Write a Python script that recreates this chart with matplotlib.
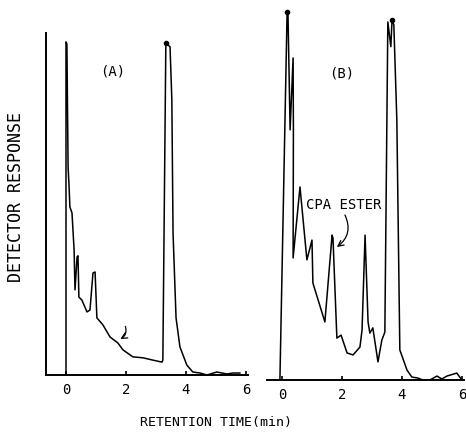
import numpy as np
import matplotlib
matplotlib.use("Agg")
import matplotlib.pyplot as plt

plt.rcParams['font.family'] = ['DejaVu Sans Mono', 'DejaVu Sans']

# chromatogram A (retention time in min, detector response in arbitrary units)
time_a = [0.0, 0.0, 0.03, 0.07, 0.10, 0.13, 0.20, 0.27, 0.30, 0.37, 0.40, 0.43, 0.53,
          0.70, 0.80, 0.90, 0.97, 1.03, 1.23, 1.47, 1.73, 1.90, 2.23, 2.57, 2.90, 3.20,
          3.23, 3.33, 3.40, 3.47, 3.53, 3.57, 3.67, 3.80, 4.03, 4.23, 4.47, 4.70, 5.03,
          5.37, 5.57, 5.80]
resp_a = [0.0, 100.9, 100.3, 63.0, 57.6, 50.9, 49.1, 37.9, 25.8, 35.8, 36.1, 23.6, 22.7,
          19.1, 19.7, 30.9, 31.2, 17.3, 15.2, 11.5, 9.7, 7.6, 5.5, 5.2, 4.5, 3.9,
          4.5, 100.6, 100.0, 99.4, 83.3, 43.0, 17.3, 8.5, 3.0, 0.9, 0.6, 0.0, 0.9,
          0.3, 0.6, 0.6]

# chromatogram B
time_b = [-0.07, 0.17, 0.20, 0.27, 0.37, 0.38, 0.37, 0.60, 0.83, 1.00, 1.03, 1.43, 1.67,
          1.70, 1.83, 1.97, 2.17, 2.37, 2.60, 2.67, 2.77, 2.87, 2.93, 3.03, 3.20, 3.33,
          3.43, 3.53, 3.63, 3.67, 3.73, 3.83, 3.93, 4.17, 4.33, 4.53, 4.70, 4.93, 5.17,
          5.33, 5.50, 5.83, 6.00]
resp_b = [0.0, 111.5, 110.6, 75.8, 97.6, 75.8, 37.0, 58.5, 36.4, 42.4, 29.4, 17.6, 43.9,
          43.0, 12.7, 13.6, 8.2, 7.6, 10.0, 15.2, 43.9, 17.6, 14.2, 15.8, 5.5, 12.1,
          14.5, 108.5, 101.0, 109.1, 107.6, 78.8, 9.1, 3.0, 0.9, 0.6, 0.0, 0.0, 1.2,
          0.3, 1.2, 2.1, 0.0]

ticks = [0, 2, 4, 6]

fig = plt.figure(figsize=(4.66, 4.37), dpi=100)
ax_a = fig.add_axes([0.0987, 0.1419, 0.4335, 0.7826])
ax_b = fig.add_axes([0.573, 0.1304, 0.4227, 0.858])

ax_a.plot(time_a, resp_a, color='black', lw=1.1)
ax_b.plot(time_b, resp_b, color='black', lw=1.1)

# dots on top of the big peaks
ia = int(np.argmax(resp_a[20:])) + 20
ax_a.plot(time_a[ia], resp_a[ia], 'o', color='black', ms=3)
ax_b.plot(time_b[1], resp_b[1], 'o', color='black', ms=3)
ib = int(np.argmax(resp_b[20:])) + 20
ax_b.plot(time_b[ib], resp_b[ib], 'o', color='black', ms=3)

ax_a.set_xlim(-0.667, 6.07)
ax_a.set_ylim(0, 103.6)
ax_b.set_xlim(-0.5, 6.07)
ax_b.set_ylim(0, 113.6)

for ax in (ax_a, ax_b):
    ax.set_facecolor('none')
    ax.spines['top'].set_visible(False)
    ax.spines['right'].set_visible(False)
    ax.spines['bottom'].set_linewidth(1.4)
    ax.set_xticks(ticks)
    ax.set_xticklabels([str(t) for t in ticks], fontsize=10)
    ax.tick_params(axis='x', direction='in', length=3, width=1.2, pad=6)
    ax.set_yticks([])
ax_a.spines['left'].set_linewidth(1.4)
ax_b.spines['left'].set_visible(False)

ax_a.text(1.55, 92, '(A)', fontsize=10, ha='center', va='center')
ax_b.text(2.0, 93, '(B)', fontsize=10, ha='center', va='center')

ax_b.text(2.07, 53, 'CPA ESTER', fontsize=10, ha='center', va='center')
ax_b.annotate('', xy=(1.83, 40.3), xytext=(2.1, 50),
              arrowprops=dict(arrowstyle='->', color='black', lw=0.9,
                              connectionstyle='arc3,rad=-0.4',
                              shrinkA=0, shrinkB=0))
ax_a.annotate('', xy=(1.73, 10.5), xytext=(1.95, 15.5),
              arrowprops=dict(arrowstyle='->', color='black', lw=0.9,
                              connectionstyle='arc3,rad=-0.5'))

fig.text(0.034, 0.549, 'DETECTOR RESPONSE', fontsize=12, rotation=90,
         ha='center', va='center')
fig.text(0.464, 0.034, 'RETENTION TIME(min)', fontsize=9.5,
         ha='center', va='center')

plt.savefig('out.png', dpi=100)
